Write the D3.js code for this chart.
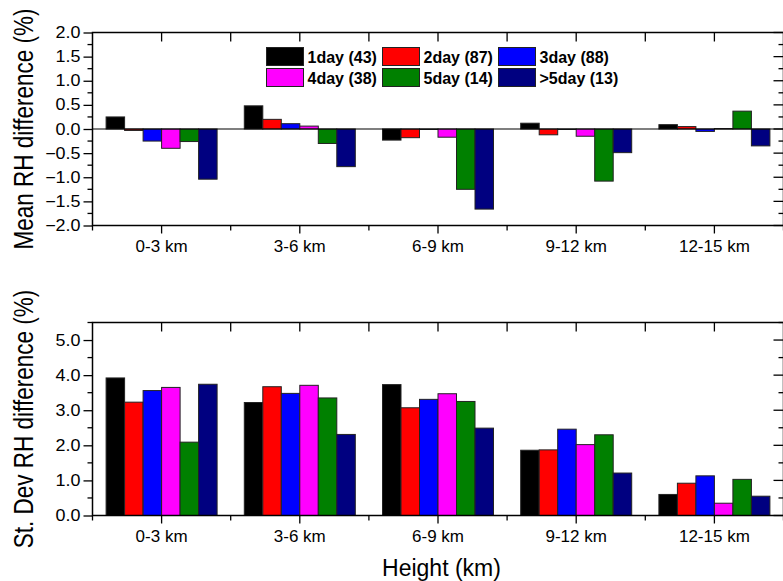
<!DOCTYPE html>
<html>
<head>
<meta charset="utf-8">
<script src="https://cdn.jsdelivr.net/npm/d3@7"></script>
<style>
  body { margin: 0; background: #fff; }
  svg { display: block; font-family: Arial, 'Liberation Sans', sans-serif; }
</style>
</head>
<body>
<svg width="783" height="581"></svg>
<script>
const heights = ['0-3 km', '3-6 km', '6-9 km', '9-12 km', '12-15 km'];
const seriesNames = ['1day (43)', '2day (87)', '3day (88)', '4day (38)', '5day (14)', '>5day (13)'];
const seriesColors = ['#000000', '#ff0000', '#0000ff', '#ff00ff', '#008000', '#000080'];

// mean RH difference, one array per height bin, in series order
const mean0_3 = [0.25, -0.03, -0.25, -0.40, -0.26, -1.04];
const mean3_6 = [0.48, 0.20, 0.11, 0.06, -0.30, -0.78];
const mean6_9 = [-0.23, -0.18, -0.01, -0.17, -1.25, -1.66];
const mean9_12 = [0.12, -0.12, -0.01, -0.15, -1.08, -0.49];
const mean12_15 = [0.09, 0.05, -0.05, 0.01, 0.37, -0.35];

// st. dev RH difference
const sd0_3 = [3.92, 3.23, 3.56, 3.65, 2.09, 3.74];
const sd3_6 = [3.22, 3.67, 3.48, 3.71, 3.35, 2.31];
const sd6_9 = [3.73, 3.07, 3.31, 3.47, 3.25, 2.49];
const sd9_12 = [1.86, 1.87, 2.46, 2.02, 2.30, 1.21];
const sd12_15 = [0.60, 0.92, 1.13, 0.35, 1.03, 0.55];

const meanTicks = [-2.0, -1.5, -1.0, -0.5, 0.0, 0.5, 1.0, 1.5, 2.0];
const sdTicks = [0.0, 1.0, 2.0, 3.0, 4.0, 5.0];

const meanData = [mean0_3, mean3_6, mean6_9, mean9_12, mean12_15];
const sdData = [sd0_3, sd3_6, sd6_9, sd9_12, sd12_15];

const svg = d3.select('svg');
const left = 92.5, right = 783.5;

const xScale = d3.scaleBand().domain(heights).range([left, right]);
const groupW = 111;
const xSub = d3.scaleBand().domain(seriesNames)
    .range([(xScale.bandwidth() - groupW) / 2, (xScale.bandwidth() + groupW) / 2]);

const drawPanel = (cfg) => {
    const {top, bottom, domain, ticks, minorStep, values, title, fmt} = cfg;
    const yScale = d3.scaleLinear().domain(domain).range([bottom, top]);
    const g = svg.append('g');

    // bars
    heights.forEach((h, i) => {
        g.selectAll(null).data(values[i]).enter().append('rect')
            .attr('x', (d, j) => xScale(h) + xSub(seriesNames[j]))
            .attr('width', xSub.bandwidth())
            .attr('y', d => yScale(Math.max(0, d)))
            .attr('height', d => Math.abs(yScale(d) - yScale(0)))
            .attr('fill', (d, j) => seriesColors[j])
            .attr('stroke', '#222')
            .attr('stroke-width', 1);
    });

    if (domain[0] < 0) {
        g.append('line')
            .attr('x1', left).attr('x2', right)
            .attr('y1', yScale(0)).attr('y2', yScale(0))
            .attr('stroke', '#000').attr('stroke-width', 1.2);
    }

    // left axis (outward ticks)
    const yAxis = d3.axisLeft(yScale).tickValues(ticks).tickFormat(fmt)
        .tickSize(9).tickPadding(3);
    const yAxisG = g.append('g').attr('transform', `translate(${left},0)`).call(yAxis);
    yAxisG.select('.domain').remove();
    yAxisG.selectAll('line').attr('stroke-width', 1.3);
    yAxisG.selectAll('text')
        .attr('font-size', 16).attr('fill', '#000')
        .attr('transform', function() {
            const x = +d3.select(this).attr('x');
            return `translate(${x},0) scale(1.12,1) translate(${-x},0)`;
        });

    const minor = d3.range(domain[0], domain[1] + 1e-9, minorStep)
        .filter(v => !ticks.some(t => Math.abs(t - v) < 1e-9));
    g.selectAll(null).data(minor).enter().append('line')
        .attr('x1', left - 5).attr('x2', left)
        .attr('y1', d => yScale(d)).attr('y2', d => yScale(d))
        .attr('stroke', '#000').attr('stroke-width', 1.3);

    // right axis (inward ticks, no labels)
    const allRight = d3.range(domain[0], domain[1] + 1e-9, minorStep);
    g.selectAll(null).data(allRight).enter().append('line')
        .attr('x1', d => ticks.some(t => Math.abs(t - d) < 1e-9) ? right - 10 : right - 5)
        .attr('x2', right)
        .attr('y1', d => yScale(d)).attr('y2', d => yScale(d))
        .attr('stroke', '#000').attr('stroke-width', 1.3);

    // bottom axis
    const xAxis = d3.axisBottom(xScale).tickSize(8).tickPadding(6);
    const xAxisG = g.append('g').attr('transform', `translate(0,${bottom})`).call(xAxis);
    xAxisG.select('.domain').remove();
    xAxisG.selectAll('line').attr('stroke-width', 1.3);
    xAxisG.selectAll('text').attr('font-size', 17).attr('fill', '#000');

    const bounds = heights.map(h => xScale(h)).concat([right]);
    g.selectAll(null).data(bounds).enter().append('line')
        .attr('x1', d => d).attr('x2', d => d)
        .attr('y1', bottom).attr('y2', bottom + 5)
        .attr('stroke', '#000').attr('stroke-width', 1.3);

    // top axis inward ticks
    const topTicks = heights.map(h => xScale(h) + xScale.bandwidth() / 2)
        .concat(heights.slice(1).map(h => xScale(h)));
    g.selectAll(null).data(topTicks).enter().append('line')
        .attr('x1', d => d).attr('x2', d => d)
        .attr('y1', top).attr('y2', top + 9)
        .attr('stroke', '#000').attr('stroke-width', 1.3);

    // frame
    g.append('rect')
        .attr('x', left).attr('y', top)
        .attr('width', right - left).attr('height', bottom - top)
        .attr('fill', 'none').attr('stroke', '#000').attr('stroke-width', 1.5);

    // y title (glyphs look stretched across in the original)
    g.append('text')
        .attr('transform', `translate(33,${(top + bottom) / 2}) scale(1.2,1) rotate(-90)`)
        .attr('text-anchor', 'middle')
        .attr('font-size', 22.5)
        .text(title);

    return yScale;
};

drawPanel({
    top: 32.5, bottom: 225.5, domain: [-2, 2], ticks: meanTicks, minorStep: 0.25,
    values: meanData, title: 'Mean RH difference (%)', fmt: d3.format('.1f')
});

drawPanel({
    top: 322.5, bottom: 515.5, domain: [0, 5.5], ticks: sdTicks, minorStep: 0.5,
    values: sdData, title: 'St. Dev RH difference (%)', fmt: d3.format('.1f')
});

// x axis title
svg.append('text')
    .attr('x', 441.5).attr('y', 576)
    .attr('text-anchor', 'middle')
    .attr('font-size', 23)
    .text('Height (km)');

// legend: 3 columns x 2 rows
const legend = svg.append('g');
seriesNames.forEach((name, i) => {
    const col = i % 3, row = Math.floor(i / 3);
    const x = 266.5 + col * 116;
    const y = 47.5 + row * 21;
    legend.append('rect')
        .attr('x', x).attr('y', y).attr('width', 37).attr('height', 18)
        .attr('fill', seriesColors[i]).attr('stroke', '#222').attr('stroke-width', 1);
    legend.append('text')
        .attr('x', x + 41).attr('y', y + 15)
        .attr('font-size', 16).attr('font-weight', 'bold')
        .text(name);
});
</script>
</body>
</html>
